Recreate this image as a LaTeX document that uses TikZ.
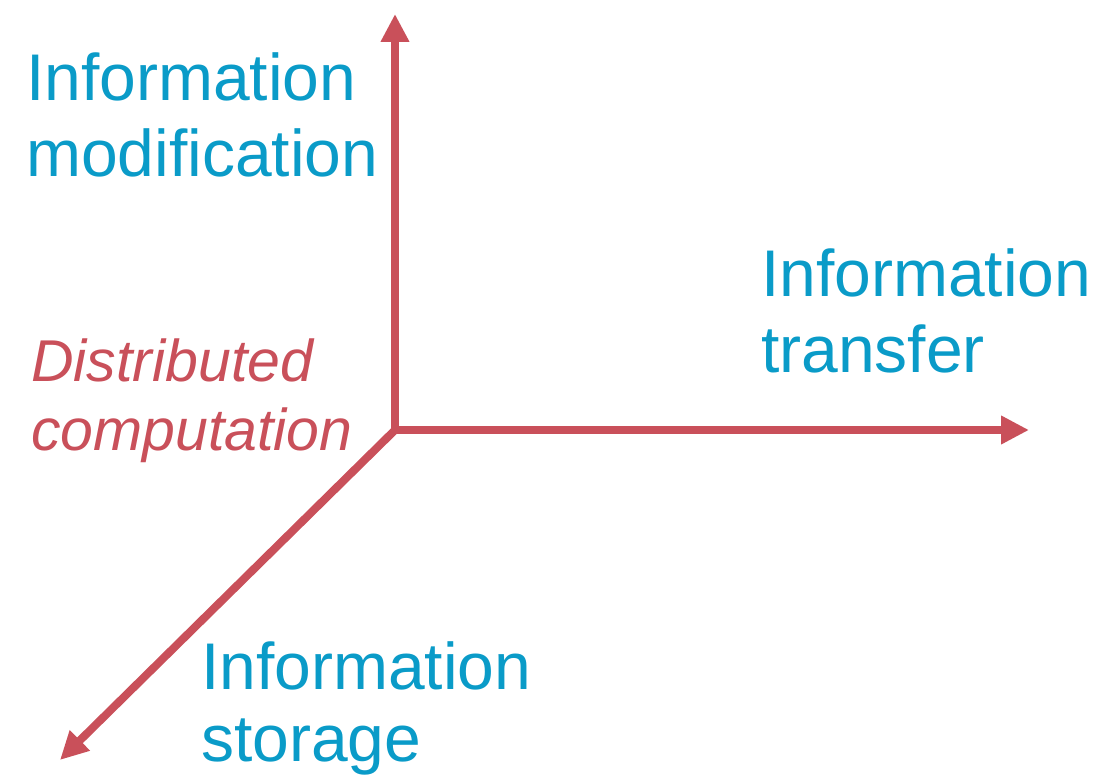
\documentclass[tikz,border=0pt]{standalone}
\usepackage{fontspec}
\setmainfont{Liberation Sans}
\usetikzlibrary{arrows.meta}
\definecolor{axred}{HTML}{C9505A}
\definecolor{axblue}{HTML}{0A9BC8}
\begin{document}
\begin{tikzpicture}[x=1pt,y=-1pt,
  axis/.style={draw=axred,line width=8pt,-{Triangle[length=28pt,width=27pt]}},
  lbl/.style={text=axblue,inner sep=0pt,anchor=base west,align=left,font=\fontsize{66}{76}\selectfont},
  dlbl/.style={text=axred,inner sep=0pt,anchor=base west,align=left,font=\fontsize{59}{69}\selectfont\itshape}]
\useasboundingbox (0,0) rectangle (1096,783);
\coordinate (o) at (395,430);
\coordinate (up) at (395,14);
\coordinate (right) at (1029,430);
\coordinate (down) at (60,760);
\draw[axis] (o) -- (up);
\draw[axis] (o) -- (right);
\draw[axis] (o) -- (down);
\node[lbl] (mod) at (26,177) {Information\\modification};
\node[lbl] (tra) at (761,373) {Information\\transfer};
\node[lbl,font=\fontsize{66}{72}\selectfont] (sto) at (201,761) {Information\\storage};
\node[dlbl] (dist) at (31,451) {Distributed\\computation};
\end{tikzpicture}
\end{document}
